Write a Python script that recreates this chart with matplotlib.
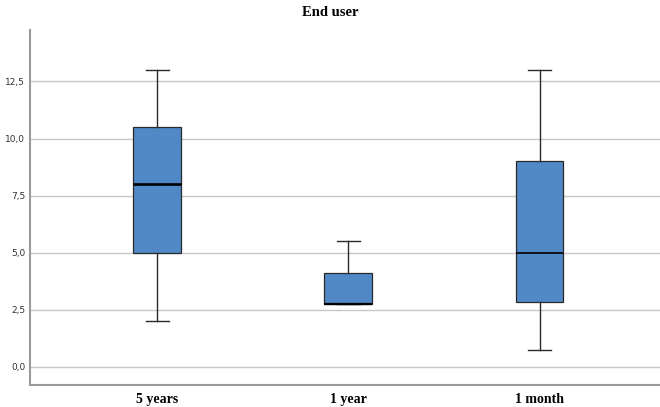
import matplotlib
matplotlib.use("Agg")
import matplotlib.pyplot as plt

categories = ["5 years", "1 year", "1 month"]
whisker_low = [2.0, 2.75, 0.75]
q1 = [5.0, 2.75, 2.85]
median = [8.0, 2.75, 5.0]
q3 = [10.5, 4.12, 9.0]
whisker_high = [13.0, 5.5, 13.0]
yticks = [0.0, 2.5, 5.0, 7.5, 10.0, 12.5]
ytick_labels = ["0,0", "2,5", "5,0", "7,5", "10,0", "12,5"]
title = "End user"

fig = plt.figure(figsize=(6.6, 4.07), dpi=100)
ax = fig.add_axes([30/660, 1-385/407, 1-30/660, (385-30)/407])

stats = []
for i, c in enumerate(categories):
    stats.append(dict(label=c, whislo=whisker_low[i], q1=q1[i], med=median[i],
                      q3=q3[i], whishi=whisker_high[i], fliers=[]))

ax.set_axisbelow(True)
ax.yaxis.grid(True, color="#c8c8c8", linewidth=1.0)
bp = ax.bxp(stats, positions=range(len(categories)), widths=0.25,
            patch_artist=True, showfliers=False,
            boxprops=dict(facecolor="#5089c6", edgecolor="#2a2a2a", linewidth=0.9),
            medianprops=dict(color="black", linewidth=1.6),
            whiskerprops=dict(color="#2a2a2a", linewidth=1.0),
            capprops=dict(color="#2a2a2a", linewidth=1.0),
            capwidths=0.12)
bp["medians"][0].set_linewidth(1.9)
bp["medians"][2].set_linewidth(1.2)

ax.set_xlim(-0.665, 2.63)
ax.set_ylim(-0.79, 14.75)
ax.set_yticks(yticks)
ax.set_yticklabels(ytick_labels, fontsize=6.5, color="#333333", family="DejaVu Sans")
ax.set_xticks(range(len(categories)))
ax.set_xticklabels(categories, fontsize=10, fontweight="bold", family="Liberation Serif")
ax.tick_params(axis="y", length=0, pad=3.5)
ax.tick_params(axis="x", length=0, pad=6)
for s in ["top", "right"]:
    ax.spines[s].set_visible(False)
for s in ["left", "bottom"]:
    ax.spines[s].set_color("#9a9a9a")
    ax.spines[s].set_linewidth(1.5)

fig.text(0.5, 1-13/407, title, ha="center", va="center", fontsize=10.5,
         fontweight="bold", family="Liberation Serif")

fig.savefig("out.png", dpi=100)
